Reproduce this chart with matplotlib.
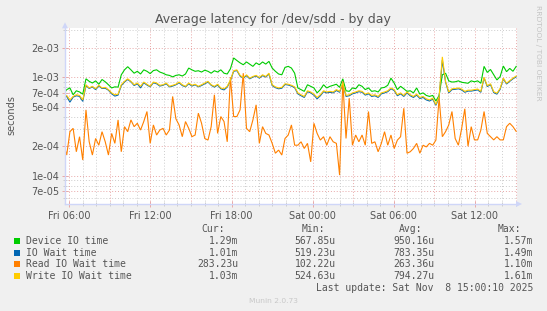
import matplotlib
matplotlib.use("Agg")
import matplotlib.pyplot as plt
import numpy as np
from matplotlib.ticker import FixedLocator, FixedFormatter, NullFormatter
from matplotlib.patches import Polygon, Rectangle

# ---------------- data (microseconds), sampled every ~14.2 min ----------------
T0_HOURS = 5.571          # first sample, hours since Fri 00:00
STEP_HOURS = 0.23743      # sampling interval in hours

device_io = [
    675, 750, 780, 665, 730, 710, 675, 965, 910, 875,
    920, 850, 950, 900, 840, 780, 800, 795, 1060, 1190,
    1280, 1190, 1100, 1150, 1080, 1190, 1150, 1090, 1170, 1190,
    1130, 1100, 1060, 1045, 1010, 1045, 1060, 1030, 1080, 1240,
    1190, 1150, 1165, 1130, 1180, 1150, 1100, 1165, 1130, 1190,
    1100, 1080, 1220, 1570, 1480, 1400, 1340, 1430, 1360, 1290,
    1400, 1340, 1430, 1360, 1450, 1240, 1150, 1080, 1060, 1260,
    1290, 1240, 1100, 780, 750, 720, 840, 810, 780, 695,
    750, 840, 780, 810, 830, 850, 790, 965, 730, 720,
    780, 765, 840, 810, 750, 780, 720, 730, 710, 780,
    790, 830, 980, 875, 750, 810, 765, 720, 730, 695,
    780, 675, 695, 655, 640, 655, 575, 655, 1060, 1100,
    920, 895, 900, 920, 890, 880, 870, 920, 900, 920,
    870, 1290, 1120, 1200, 1060, 940, 1015, 1300, 1140, 1230,
    1150, 1290,
]

io_wait = [
    625, 640, 560, 630, 650, 640, 570, 825, 770, 800,
    750, 815, 770, 775, 740, 680, 645, 660, 825, 895,
    950, 900, 825, 860, 780, 880, 835, 800, 880, 860,
    815, 830, 860, 800, 815, 840, 880, 825, 800, 860,
    815, 840, 800, 825, 860, 895, 830, 795, 835, 765,
    745, 795, 925, 1150, 1170, 1030, 980, 1040, 965, 1005,
    1030, 980, 1040, 1005, 1080, 825, 785, 765, 775, 845,
    835, 815, 785, 680, 650, 625, 715, 695, 660, 605,
    650, 715, 695, 705, 695, 735, 705, 860, 640, 650,
    680, 695, 715, 705, 660, 680, 640, 650, 625, 680,
    695, 715, 765, 735, 650, 680, 640, 695, 650, 625,
    660, 610, 625, 590, 575, 600, 520, 625, 1490, 895,
    695, 750, 755, 765, 745, 705, 725, 725, 735, 745,
    705, 985, 805, 845, 700, 675, 755, 965, 855, 910,
    965, 1010,
]

read_io_wait = [
    214, 163, 281, 304, 176, 250, 145, 468, 222, 163,
    240, 205, 281, 222, 163, 270, 214, 370, 176, 316,
    281, 370, 316, 342, 292, 356, 450, 214, 329, 260,
    292, 304, 260, 292, 640, 380, 329, 250, 356, 304,
    250, 260, 433, 342, 240, 231, 316, 665, 270, 400,
    356, 222, 1000, 400, 400, 468, 1100, 304, 281, 370,
    526, 214, 316, 270, 260, 214, 170, 183, 163, 240,
    260, 329, 205, 205, 222, 190, 214, 139, 342, 270,
    231, 250, 205, 250, 222, 214, 102, 910, 240, 615,
    205, 260, 222, 260, 205, 450, 214, 222, 176, 214,
    281, 205, 260, 190, 231, 250, 486, 170, 176, 190,
    214, 170, 205, 197, 214, 205, 231, 620, 250, 281,
    329, 450, 240, 205, 300, 480, 200, 316, 232, 232,
    292, 450, 270, 250, 232, 250, 232, 232, 316, 342,
    316, 283,
]

write_io_wait = [
    640, 655, 590, 640, 665, 655, 590, 840, 780, 810,
    765, 830, 780, 790, 750, 695, 665, 675, 840, 910,
    965, 910, 840, 875, 810, 895, 850, 810, 895, 875,
    830, 840, 875, 810, 830, 850, 895, 840, 810, 875,
    830, 850, 810, 840, 875, 910, 840, 810, 850, 780,
    765, 810, 940, 1165, 1190, 1045, 995, 1060, 980, 1020,
    1045, 995, 1060, 1020, 1100, 840, 800, 780, 790, 860,
    850, 830, 800, 695, 665, 640, 730, 710, 675, 625,
    665, 730, 710, 720, 710, 750, 720, 875, 655, 665,
    695, 710, 730, 720, 675, 695, 655, 665, 640, 695,
    710, 730, 780, 750, 665, 695, 655, 710, 665, 640,
    675, 625, 640, 605, 590, 615, 530, 640, 1610, 910,
    710, 765, 770, 780, 760, 720, 740, 740, 750, 760,
    720, 1000, 820, 860, 715, 690, 770, 980, 870, 925,
    980, 1030,
]

series_names = ["Device IO time", "IO Wait time", "Read IO Wait time", "Write IO Wait time"]
series_colors = ["#00CC00", "#0066B3", "#FF8000", "#FFCC00"]
legend_cur = ["1.29m", "1.01m", "283.23u", "1.03m"]
legend_min = ["567.85u", "519.23u", "102.22u", "524.63u"]
legend_avg = ["950.16u", "783.35u", "263.36u", "794.27u"]
legend_max = ["1.57m", "1.49m", "1.10m", "1.61m"]

x_tick_hours = [6, 12, 18, 24, 30, 36]
x_tick_labels = ["Fri 06:00", "Fri 12:00", "Fri 18:00", "Sat 00:00", "Sat 06:00", "Sat 12:00"]
y_major = [7e-5, 1e-4, 2e-4, 5e-4, 7e-4, 1e-3, 2e-3]
y_major_labels = ["7e-05", "1e-04", "2e-04", "5e-04", "7e-04", "1e-03", "2e-03"]
y_minor = [6e-5, 8e-5, 9e-5, 3e-4, 4e-4, 6e-4, 8e-4, 9e-4, 3e-3]

# ---------------- figure ----------------
W, H = 547, 311
BG = "#F0F0F0"
FONT_C = "#555555"
MGRID = "#E8A8A8"
GRID = "#CCCCCC"
AXIS_C = "#CFD6F8"

fig = plt.figure(figsize=(W / 100, H / 100), dpi=100, facecolor=BG)

def P(x, y):
    return (x / W, 1 - y / H)

L, R, T, B = 65, 517, 28.3, 204
ax = fig.add_axes([L / W, 1 - B / H, (R - L) / W, (B - T) / H])
ax.set_facecolor("white")
ax.set_yscale("log")
ax.set_ylim(5.2e-5, 3.136e-3)
ax.set_xlim(5.682, 39.11)

# grid
dots = (0, (1, 2))
for h in np.arange(6, 40, 1):
    if h % 3 == 0:
        ax.axvline(h, color=MGRID, lw=0.7, ls=dots, zorder=0.6)
    else:
        ax.axvline(h, color=GRID, lw=0.7, ls=dots, zorder=0.5)
for v in y_minor:
    ax.axhline(v, color=GRID, lw=0.7, ls=dots, zorder=0.5)
for v in y_major:
    ax.axhline(v, color=MGRID, lw=0.7, ls=dots, zorder=0.6)

# data
data = [device_io, io_wait, read_io_wait, write_io_wait]
for vals, col in zip(data, series_colors):
    v = np.asarray(vals, dtype=float) * 1e-6
    t = T0_HOURS + STEP_HOURS * np.arange(len(v))
    ax.plot(t, v, color=col, lw=0.8, zorder=2, solid_joinstyle="miter")

# ticks
ax.yaxis.set_major_locator(FixedLocator(y_major))
ax.yaxis.set_major_formatter(FixedFormatter(y_major_labels))
ax.yaxis.set_minor_locator(FixedLocator(y_minor))
ax.yaxis.set_minor_formatter(NullFormatter())
ax.xaxis.set_major_locator(FixedLocator(x_tick_hours))
ax.xaxis.set_major_formatter(FixedFormatter(x_tick_labels))
ax.xaxis.set_minor_locator(FixedLocator([h for h in range(6, 40) if h not in x_tick_hours]))
ax.tick_params(which="major", length=4, width=0.7, color=MGRID, direction="inout",
               labelsize=7, labelcolor=FONT_C, pad=2)
ax.tick_params(which="minor", length=3, width=0.7, color=GRID, direction="inout")
ax.tick_params(axis="x", which="major", pad=3)

for s in ["top", "right"]:
    ax.spines[s].set_visible(False)
for s in ["left", "bottom"]:
    ax.spines[s].set_color(AXIS_C)
    ax.spines[s].set_linewidth(1.0)
    ax.spines[s].set_zorder(3)

# arrows
fig.patches.append(Polygon([P(L - 3, T), P(L + 3, T), P(L, T - 6)], closed=True,
                           transform=fig.transFigure, facecolor=AXIS_C, edgecolor="none"))
fig.patches.append(Polygon([P(R - 1, B - 3), P(R - 1, B + 3), P(R + 5, B)], closed=True,
                           transform=fig.transFigure, facecolor=AXIS_C, edgecolor="none"))

# title & labels
fig.text(*P(273, 20), "Average latency for /dev/sdd - by day", ha="center", va="center",
         fontsize=9, color=FONT_C)
fig.text(*P(11, 115), "seconds", rotation=90, ha="center", va="center", fontsize=7, color=FONT_C)
fig.text(*P(537.7, 53), "RRDTOOL / TOBI OETIKER", rotation=270, ha="center", va="center",
         fontsize=5.4, color="#C4C4C4")

# legend
mono = "DejaVu Sans Mono"
LF = 7
hy = 229
fig.text(*P(225, hy), "Cur:", ha="right", va="center", family=mono, fontsize=LF, color=FONT_C)
fig.text(*P(325, hy), "Min:", ha="right", va="center", family=mono, fontsize=LF, color=FONT_C)
fig.text(*P(422, hy), "Avg:", ha="right", va="center", family=mono, fontsize=LF, color=FONT_C)
fig.text(*P(521, hy), "Max:", ha="right", va="center", family=mono, fontsize=LF, color=FONT_C)

row_y = [241, 252.7, 264.4, 276.1]
for name, col, cu, mi, av, ma, y in zip(series_names, series_colors, legend_cur, legend_min,
                                        legend_avg, legend_max, row_y):
    x0, y0 = P(13.5, y + 3)
    fig.patches.append(Rectangle((x0, y0), 6 / W, 6 / H, transform=fig.transFigure,
                                 facecolor=col, edgecolor="none"))
    fig.text(*P(26, y), name, ha="left", va="center", family=mono, fontsize=LF, color=FONT_C)
    fig.text(*P(238, y), cu, ha="right", va="center", family=mono, fontsize=LF, color=FONT_C)
    fig.text(*P(335.5, y), mi, ha="right", va="center", family=mono, fontsize=LF, color=FONT_C)
    fig.text(*P(434.5, y), av, ha="right", va="center", family=mono, fontsize=LF, color=FONT_C)
    fig.text(*P(533, y), ma, ha="right", va="center", family=mono, fontsize=LF, color=FONT_C)

fig.text(*P(533, 287.8), "Last update: Sat Nov  8 15:00:10 2025", ha="right", va="center",
         family=mono, fontsize=LF, color=FONT_C)
fig.text(*P(273, 301), "Munin 2.0.73", ha="center", va="center", fontsize=5.4, color="#C8C8C8")

fig.savefig("out.png", dpi=100, facecolor=BG)
